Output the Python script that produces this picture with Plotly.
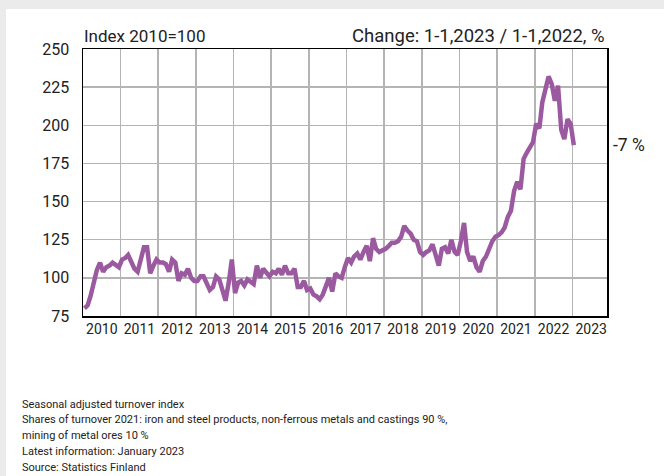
import plotly.graph_objects as go

# ---- data (seasonally adjusted turnover index, 2010=100), monthly ----
years = list(range(2010, 2024))
idx_2010 = [80, 82, 88, 98, 105, 110, 104, 107, 108, 110, 108, 107]
idx_2011 = [112, 113, 115, 111, 106, 104, 112, 120, 120, 103, 108, 112]
idx_2012 = [110, 110, 109, 104, 112, 110, 98, 103, 102, 106, 100, 98]
idx_2013 = [98, 101, 101, 97, 92, 94, 101, 99, 92, 85, 97, 112]
idx_2014 = [90, 97, 98, 95, 99, 97, 96, 108, 100, 106, 103, 101]
idx_2015 = [104, 103, 106, 102, 108, 103, 103, 106, 94, 94, 98, 92]
idx_2016 = [93, 89, 88, 86, 89, 95, 100, 91, 103, 101, 100, 107]
idx_2017 = [113, 110, 114, 116, 112, 117, 121, 111, 126, 119, 117, 118]
idx_2018 = [119, 121, 123, 123, 124, 127, 134, 131, 129, 125, 124, 117]
idx_2019 = [115, 117, 118, 122, 115, 108, 119, 120, 116, 125, 117, 115]
idx_2020 = [124, 136, 117, 111, 114, 107, 104, 111, 114, 119, 124, 127]
idx_2021 = [128, 130, 133, 140, 144, 157, 163, 158, 178, 182, 186, 189]
idx_2022 = [201, 198, 215, 224, 232, 227, 216, 226, 197, 191, 204, 201]
idx_2023 = [187]

y_ticks = [75, 100, 125, 150, 175, 200, 225, 250]
title_left = "Index 2010=100"
title_right = "Change: 1-1,2023 / 1-1,2022, %"
change_label = "-7 %"
footer_lines = [
    "Seasonal adjusted turnover index",
    "Shares of turnover 2021: iron and steel products, non-ferrous metals and castings 90 %,",
    "mining of metal ores 10 %",
    "Latest information: January 2023",
    "Source: Statistics Finland",
]

series = [idx_2010, idx_2011, idx_2012, idx_2013, idx_2014, idx_2015, idx_2016,
          idx_2017, idx_2018, idx_2019, idx_2020, idx_2021, idx_2022, idx_2023]
values, dates = [], []
for yr, vals in zip(years, series):
    for m, v in enumerate(vals):
        dates.append(f"{yr}-{m + 1:02d}-15")
        values.append(v)

# ---- layout geometry (pixels) ----
W, H = 664, 476
PL, PR, PT, PB = 83, 607, 49, 316
pw, ph = PR - PL, PB - PT

def px(x):
    return (x - PL) / pw

def py(y):
    return (PB - y) / ph

FONT = "Roboto"
TXT = "#222222"
GRID = "#b4b4b4"
LINE = "#9b5aa0"

fig = go.Figure()
fig.add_trace(go.Scatter(x=dates, y=values, mode="lines",
                         line=dict(color=LINE, width=4.5), hoverinfo="skip"))

fig.update_layout(
    width=W, height=H,
    margin=dict(l=PL, r=W - PR, t=PT, b=H - PB, pad=0),
    paper_bgcolor="white", plot_bgcolor="white",
    showlegend=False,
    font=dict(family=FONT, color=TXT),
    xaxis=dict(
        type="date", range=["2010-01-01", "2023-12-03"],
        dtick="M12", tick0="2010-01-01", tickformat="%Y",
        ticklabelmode="period", showgrid=True, gridcolor=GRID, gridwidth=1.5,
        ticks="", tickfont=dict(size=14, color=TXT, family=FONT),
        showline=True, linecolor="black", linewidth=1.5, mirror=True,
        zeroline=False, fixedrange=True,
    ),
    yaxis=dict(
        range=[75, 250], tickvals=y_ticks, showgrid=True, gridcolor=GRID, gridwidth=1.5,
        ticks="", ticklabelstandoff=9, tickfont=dict(size=16, color=TXT, family=FONT),
        showline=True, linecolor="black", linewidth=1.5, mirror=True,
        zeroline=False, fixedrange=True,
    ),
)

# gray frame strips (top and left)
fig.add_shape(type="rect", xref="paper", yref="paper", layer="below",
              x0=px(0), x1=px(W), y0=py(9), y1=py(0),
              fillcolor="#ebebeb", line=dict(width=0))
fig.add_shape(type="rect", xref="paper", yref="paper", layer="below",
              x0=px(0), x1=px(6), y0=py(H), y1=py(0),
              fillcolor="#ebebeb", line=dict(width=0))

fig.add_annotation(text=title_left, xref="paper", yref="paper", x=px(82), y=py(36),
                   xanchor="left", yanchor="middle", showarrow=False,
                   font=dict(size=17, color=TXT, family=FONT))
fig.add_annotation(text=title_right, xref="paper", yref="paper", x=1, y=py(36),
                   xanchor="right", yanchor="middle", showarrow=False,
                   font=dict(size=18.5, color=TXT, family=FONT))
fig.add_annotation(text=change_label, xref="paper", yref="y", x=px(611), y=values[-1],
                   xanchor="left", yanchor="middle", showarrow=False,
                   font=dict(size=17.5, color=TXT, family=FONT))

for i, line in enumerate(footer_lines):
    fig.add_annotation(text=line, xref="paper", yref="paper", x=px(20),
                       y=py(404 + i * 15.8), xanchor="left", yanchor="middle",
                       showarrow=False, font=dict(size=11, color=TXT, family=FONT))

fig.write_html("out.html", config={"displayModeBar": False, "staticPlot": True},
               post_script="document.body.style.margin='0';")
